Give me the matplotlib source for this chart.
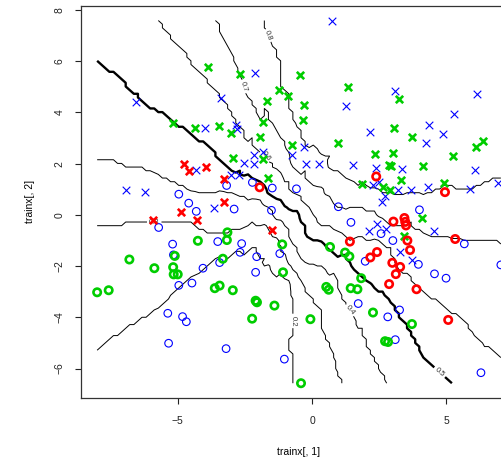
import numpy as np
import matplotlib
matplotlib.use("Agg")
import matplotlib.pyplot as plt

plt.rcParams['font.family'] = ['Liberation Sans', 'DejaVu Sans']

# ---- point data (trainx[,1], trainx[,2]) by marker / colour group ----
bx_x = [0.74,-2.11,-6.54,-3.39,3.10,6.14,1.27,5.27,-4.00,-2.83,-2.79,2.17,4.34,4.86,4.25,-0.29,-2.55,-2.15,-2.15,-1.82,-0.75,-0.21,0.25,1.53,2.39,3.35,6.05,-4.31,-3.02,-2.71,-6.91,-6.20,-3.64,2.26,2.50,3.19,3.68,4.30,5.90,6.91,2.73,2.62,2.41,2.11,2.74,4.55,3.26,3.73]
bx_y = [7.59,5.56,4.41,4.56,4.82,4.73,4.26,3.93,3.41,3.52,3.36,3.23,3.52,3.16,2.82,2.67,2.02,2.34,1.99,2.44,2.34,1.97,1.97,1.95,1.85,1.78,1.76,1.76,1.54,1.56,0.98,0.89,0.29,1.15,1.30,0.98,0.98,1.08,1.00,1.24,0.74,0.51,-0.37,-0.63,-0.54,-0.63,-1.46,-1.76]
gx_x = [-3.87,-2.69,-1.22,-0.91,-1.67,-0.44,1.34,3.25,-0.31,-0.35,-5.19,-4.34,-3.45,-3.01,-1.82,-1.95,3.07,3.73,-0.75,0.98,6.35,6.10,2.36,3.00,5.26,-2.96,-1.84,-1.64,2.85,2.95,4.13,3.31,1.86,2.66,2.90,4.90,4.09,3.44]
gx_y = [5.79,5.51,4.86,4.65,4.43,5.47,5.01,4.53,4.30,3.71,3.58,3.39,3.49,3.19,3.62,3.06,3.39,3.03,2.73,2.81,2.89,2.66,2.38,2.43,2.32,2.21,2.18,1.46,1.93,1.91,1.90,1.37,1.19,1.11,0.96,1.26,-0.12,-0.82]
rx_x = [-4.78,-4.58,-3.93,-3.29,-3.26,-4.86,-5.92,-4.27,-1.49]
rx_y = [1.98,1.73,1.89,1.40,0.50,0.12,-0.20,-0.18,-0.60]
ro_x = [-1.95,2.39,4.95,3.03,3.44,3.47,3.50,3.55,5.33,1.41,3.65,2.42,2.17,2.99,3.28,3.12,2.87,3.89,5.07]
ro_y = [1.08,1.50,0.89,-0.26,-0.12,-0.27,-0.41,-1.00,-0.94,-1.04,-1.37,-1.45,-1.66,-1.87,-2.03,-2.31,-2.70,-2.90,-4.10]
bo_x = [-3.18,-2.22,-1.48,-4.96,-4.59,-4.31,-2.90,-1.51,-0.58,0.98,4.00,-5.71,-3.51,-2.62,-5.19,-2.68,-2.06,-1.20,1.45,2.57,3.01,5.67,1.98,3.96,4.56,4.99,7.03,-4.06,-3.44,-2.10,-4.96,-4.47,-5.37,-4.82,-4.68,-5.34,-3.20,-1.03,1.72,3.26,2.82,3.10,6.29,-5.16]
bo_y = [1.15,1.27,1.05,0.81,0.46,0.14,0.23,0.18,1.02,0.32,0.20,-0.49,-1.04,-1.12,-1.14,-1.46,-1.63,-1.51,-0.29,-0.73,-1.00,-1.13,-1.81,-1.93,-2.30,-2.47,-1.95,-2.08,-1.86,-2.24,-2.75,-2.66,-3.84,-3.97,-4.17,-5.01,-5.22,-5.63,-3.46,-3.71,-3.98,-4.87,-6.16,-1.56]
go_x = [-3.15,-4.25,-3.17,-1.11,-6.80,-5.11,-3.32,-5.87,-5.17,-5.15,-5.00,-8.00,-7.57,-3.62,-3.44,-2.95,-2.10,-2.05,-1.40,-2.23,-1.08,-0.06,0.53,0.62,0.67,1.23,1.39,1.83,1.44,1.69,2.27,3.72,2.72,2.83,-0.41]
go_y = [-0.68,-1.01,-0.98,-1.15,-1.74,-1.60,-1.71,-2.08,-2.04,-2.32,-2.32,-3.02,-2.94,-2.86,-2.76,-2.94,-3.35,-3.41,-3.54,-4.05,-2.24,-4.07,-2.81,-2.92,-1.25,-1.47,-1.62,-2.47,-2.86,-2.90,-3.81,-4.26,-4.93,-4.96,-6.57]

contour_levels = [0.2, 0.3, 0.4, 0.5, 0.6, 0.7, 0.8]
k_neighbours = 80
x_ticks = [-5, 0, 5]
y_ticks = [-6, -4, -2, 0, 2, 4, 6, 8]

# ---- probability surface: k-nearest-neighbour vote over a grid ----
ones = np.array(list(zip(gx_x + ro_x + bx_x, gx_y + ro_y + bx_y)))
zeros = np.array(list(zip(go_x + rx_x + bo_x, go_y + rx_y + bo_y)))
pts = np.vstack([ones, zeros])
lab = np.r_[np.ones(len(ones)), np.zeros(len(zeros))]

xmin, xmax = pts[:, 0].min(), pts[:, 0].max()
ymin, ymax = pts[:, 1].min(), pts[:, 1].max()
gxs = np.linspace(xmin, xmax, 100)
gys = np.linspace(ymin, ymax, 100)
GX, GY = np.meshgrid(gxs, gys)
G = np.c_[GX.ravel(), GY.ravel()]
dist = ((G[:, None, :] - pts[None, :, :]) ** 2).sum(-1)
nn = np.argsort(dist, axis=1)[:, :k_neighbours]
prob = lab[nn].mean(1).reshape(GX.shape)

# ---- figure ----
W, H = 502, 463
fig = plt.figure(figsize=(W / 100, H / 100), dpi=100)
ext_x = 0.04 * (xmax - xmin)
ext_y = 0.04 * (ymax - ymin)
xl = (xmin - ext_x, xmax + ext_x)
yl = (ymin - ext_y, ymax + ext_y)
# axes extends past the right edge of the image (cropped, as in the reference)
ax = fig.add_axes([81 / W, 0.141, 0.8685, 0.846])
ax.set_xlim(*xl)
ax.set_ylim(*yl)

lws = [0.7 if lv != 0.5 else 1.7 for lv in contour_levels]
cs = ax.contour(GX, GY, prob, levels=contour_levels, colors='black', linewidths=lws, zorder=1)
ax.clabel(cs, fontsize=5.5, fmt='%g', inline=True, inline_spacing=2, colors='#333333')

thin = dict(s=30, linewidths=0.8, zorder=3)
bold = dict(s=28, linewidths=1.9, zorder=3)
ax.scatter(bx_x, bx_y, marker='x', color='#0000FF', **thin)
ax.scatter(bo_x, bo_y, marker='o', facecolors='none', edgecolors='#0000FF', **thin)
ax.scatter(gx_x, gx_y, marker='x', color='#00CD00', **bold)
ax.scatter(go_x, go_y, marker='o', facecolors='none', edgecolors='#00CD00', **bold)
ax.scatter(rx_x, rx_y, marker='x', color='#FF0000', **bold)
ax.scatter(ro_x, ro_y, marker='o', facecolors='none', edgecolors='#FF0000', **bold)

ax.set_xticks(x_ticks)
ax.set_xticklabels(['\u22125', '0', '5'])
ax.set_yticks(y_ticks)
ax.set_yticklabels([('\u2212' + str(-v)) if v < 0 else str(v) for v in y_ticks], rotation=90, va='center')
ax.tick_params(direction='out', length=4, width=0.8, labelsize=7.5, colors='#222222')
ax.tick_params(axis='x', pad=9)
ax.tick_params(axis='y', pad=8)
for sp in ax.spines.values():
    sp.set_linewidth(0.9)
    sp.set_color('#333333')

ax.set_xlabel('trainx[, 1]', fontsize=7.5)
ax.set_ylabel('trainx[, 2]', fontsize=7.5)
ax.xaxis.set_label_coords(0.5, -0.125)
ax.yaxis.set_label_coords(-0.105, 0.5)

fig.savefig('out.png', dpi=100)
